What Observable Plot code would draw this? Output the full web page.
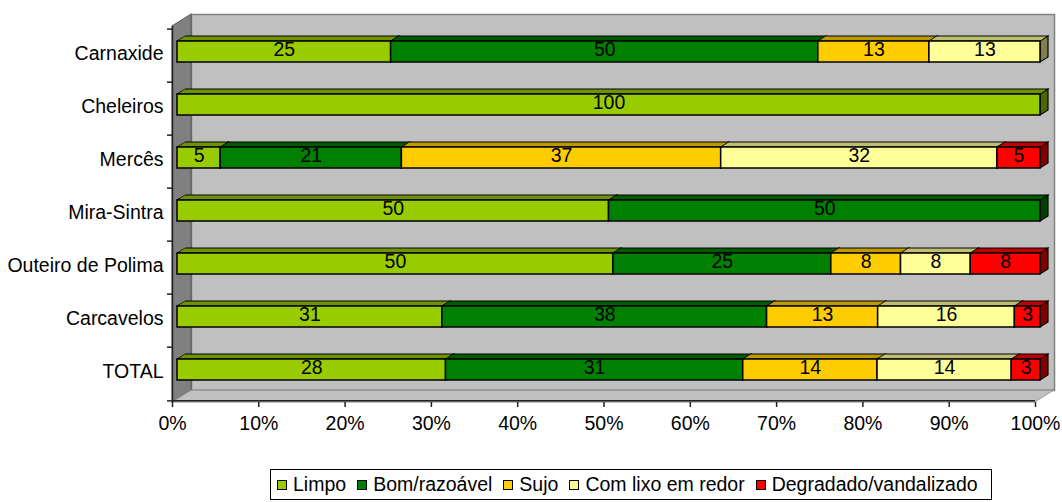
<!DOCTYPE html>
<html>
<head>
<meta charset="utf-8">
<script src="https://cdn.jsdelivr.net/npm/d3@7"></script>
<script src="https://cdn.jsdelivr.net/npm/@observablehq/plot@0.6"></script>
<style>
  html, body { margin: 0; padding: 0; background: #fff; }
  #chart svg { display: block; }
  #legend {
    margin-left: 270px; margin-top: 9px; width: 722px; height: 31px;
    border: 1px solid #000; box-sizing: border-box;
    display: flex; align-items: center; padding-left: 6px;
    font-family: "Liberation Sans", Arial, sans-serif; font-size: 19.5px; color: #000;
  }
  #legend .item { display: flex; align-items: center; margin-right: 11px; white-space: nowrap; }
  #legend .sw { width: 8px; height: 8px; border: 1px solid #000; margin-right: 6px; }
</style>
</head>
<body>
<div id="chart"></div>
<div id="legend"></div>
<script>
// ---- data ----
const categories = ["Carnaxide", "Cheleiros", "Mercês", "Mira-Sintra", "Outeiro de Polima", "Carcavelos", "TOTAL"];
const series = ["Limpo", "Bom/razoável", "Sujo", "Com lixo em redor", "Degradado/vandalizado"];
const limpo     = [25, 100, 5, 50, 50, 31, 28];
const bom       = [50, null, 21, 50, 25, 38, 31];
const sujo      = [13, null, 37, null, 8, 13, 14];
const comLixo   = [13, null, 32, null, 8, 16, 14];
const degradado = [null, null, 5, null, 8, 3, 3];
const xTicks = [0, 0.1, 0.2, 0.3, 0.4, 0.5, 0.6, 0.7, 0.8, 0.9, 1];
const xTickLabels = ["0%", "10%", "20%", "30%", "40%", "50%", "60%", "70%", "80%", "90%", "100%"];

// ---- styles ----
const frontColors = ["#99CC00", "#008000", "#FFCC00", "#FFFF99", "#FF0000"];
const topColors   = ["#6F9400", "#005C00", "#BF9900", "#BFBF73", "#BF0000"];
const sideColors  = ["#4D6600", "#004000", "#806600", "#80804D", "#800000"];

const seriesValues = [limpo, bom, sujo, comLixo, degradado];

// build rows and normalized stacking per category
const rows = [];
categories.forEach((c, i) => {
  const vals = seriesValues.map(arr => arr[i]);
  const total = d3.sum(vals.filter(v => v != null));
  let acc = 0;
  series.forEach((s, j) => {
    const v = vals[j];
    if (v == null) return;
    const x1 = acc / total;
    acc += v;
    const x2 = acc / total;
    rows.push({category: c, series: s, value: v, x1, x2, xm: (x1 + x2) / 2, si: j});
  });
});

// ---- layout ----
const W = 1062, H = 460;
const ML = 172, MR = 27, MT = 26, MB = H - 402;
const frameH = H - MT - MB;
const step = frameH / categories.length;
const WALL_DX = 19, WALL_DY = -12;   // depth of the 3D box
const BAR_DX = 5, BAR_DY = -4;       // front face offset of bars
const FONT = "Liberation Sans, Arial, sans-serif";

const plot = Plot.plot({
  width: W, height: H,
  marginLeft: ML, marginRight: MR, marginTop: MT, marginBottom: MB,
  style: {fontFamily: FONT, fontSize: "19px", color: "#000", background: "#fff", overflow: "visible"},
  x: {domain: [0, 1]},
  y: {domain: categories, paddingInner: 0.61, paddingOuter: 0.305},
  marks: [
    // back wall
    Plot.frame({fill: "#C0C0C0", stroke: "#808080", strokeWidth: 1.5, dx: WALL_DX, dy: WALL_DY}),
    // left wall
    Plot.barX([0], {x1: 0, x2: 0, insetRight: -WALL_DX, fill: "#808080", stroke: "#555", ariaDescription: "leftwall"}),
    // floor
    Plot.barX([0], {x1: 0, x2: 1, insetTop: frameH + WALL_DY, fill: "#C0C0C0", stroke: "#808080", ariaDescription: "floor"}),
    // axis lines
    Plot.ruleX([0], {stroke: "#222", strokeWidth: 1.5}),
    Plot.ruleY([categories[categories.length - 1]], {x1: 0, x2: 1, dy: step / 2, stroke: "#222", strokeWidth: 1.5}),
    // y boundary ticks
    Plot.ruleY(categories, {x1: 0, x2: 0, insetLeft: -5, dy: -step / 2, stroke: "#222", strokeWidth: 1.5}),
    Plot.ruleY([categories[categories.length - 1]], {x1: 0, x2: 0, insetLeft: -5, dy: step / 2, stroke: "#222", strokeWidth: 1.5}),
    // axes
    Plot.axisY({tickSize: 0, tickPadding: 9, fontSize: 19.5, dy: -2, label: null}),
    Plot.axisX({ticks: xTicks, tickFormat: (d, i) => xTickLabels[i], tickSize: 5, tickPadding: 9, fontSize: 19.5, stroke: "#222", strokeWidth: 1.5, label: null}),
    // bar side faces
    Plot.barX(rows, {x1: "x2", x2: "x2", y: "category", insetRight: -8, dx: BAR_DX, dy: BAR_DY,
      fill: d => sideColors[d.si], stroke: "#000", strokeWidth: 1.2, ariaDescription: "side"}),
    // bar top faces
    Plot.barX(rows, {x1: "x1", x2: "x2", y: "category", insetTop: -5, insetBottom: 21, dx: BAR_DX, dy: BAR_DY,
      fill: d => topColors[d.si], stroke: "#000", strokeWidth: 1.2, ariaDescription: "top"}),
    // bar front faces
    Plot.barX(rows, {x1: "x1", x2: "x2", y: "category", dx: BAR_DX, dy: BAR_DY,
      fill: d => frontColors[d.si], stroke: "#000", strokeWidth: 1.5}),
    // value labels
    Plot.text(rows, {x: "xm", y: "category", text: d => String(d.value), dx: BAR_DX, dy: BAR_DY - 2,
      fontSize: 19.5, fill: "#000", fontFamily: FONT})
  ]
});

// 3D skews of faces (geometry comes from Plot's scales)
const svg = d3.select(plot);
function addTransform(el, t) {
  const prev = el.getAttribute("transform") || "";
  el.setAttribute("transform", (prev + " " + t).trim());
}
function rectsOf(name) {
  return svg.selectAll("g").filter(function () {
    return this.getAttribute("aria-description") === name;
  }).selectAll("rect");
}
rectsOf("top").each(function () {
  const x = +this.getAttribute("x"), y = +this.getAttribute("y"), h = +this.getAttribute("height");
  const a = Math.atan(-8 / h) * 180 / Math.PI;
  addTransform(this, `translate(${x},${y + h}) skewX(${a}) translate(${-x},${-(y + h)})`);
});
rectsOf("side").each(function () {
  const x = +this.getAttribute("x"), y = +this.getAttribute("y"), w = +this.getAttribute("width");
  const b = Math.atan(-5 / w) * 180 / Math.PI;
  addTransform(this, `translate(${x},${y}) skewY(${b}) translate(${-x},${-y})`);
});
rectsOf("leftwall").each(function () {
  const x = +this.getAttribute("x"), y = +this.getAttribute("y"), w = +this.getAttribute("width");
  const b = Math.atan(WALL_DY / w) * 180 / Math.PI;
  addTransform(this, `translate(${x},${y}) skewY(${b}) translate(${-x},${-y})`);
});
rectsOf("floor").each(function () {
  const x = +this.getAttribute("x"), y = +this.getAttribute("y"), h = +this.getAttribute("height");
  const a = Math.atan(-WALL_DX / h) * 180 / Math.PI;
  addTransform(this, `translate(${x},${y + h}) skewX(${a}) translate(${-x},${-(y + h)})`);
});

document.getElementById("chart").appendChild(plot);

// legend
const legend = d3.select("#legend");
series.forEach((s, i) => {
  const item = legend.append("div").attr("class", "item");
  item.append("div").attr("class", "sw").style("background", frontColors[i]);
  item.append("span").text(s);
});
</script>
</body>
</html>
